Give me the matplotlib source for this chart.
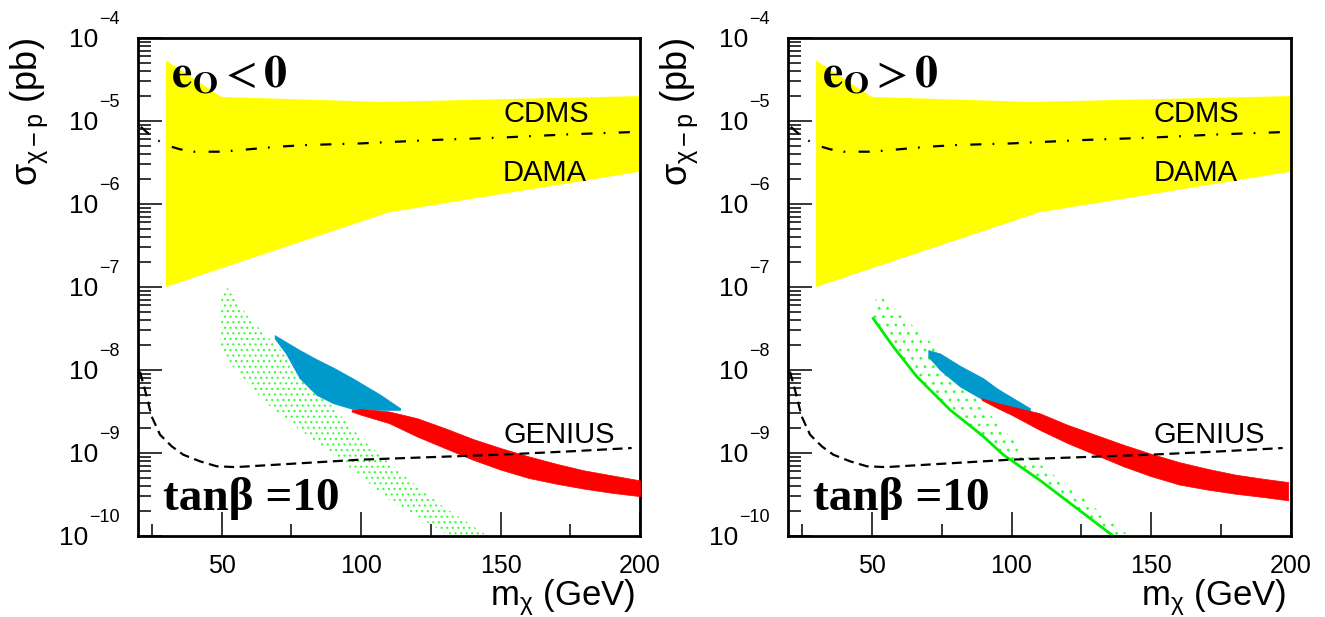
import numpy as np
import matplotlib
matplotlib.use('Agg')
import matplotlib.pyplot as plt
from matplotlib.ticker import FixedLocator, LogLocator, NullFormatter

plt.rcParams['font.family'] = ['Liberation Sans', 'DejaVu Sans']
plt.rcParams['mathtext.fontset'] = 'custom'
plt.rcParams['mathtext.rm'] = 'Liberation Sans'
plt.rcParams['mathtext.it'] = 'Liberation Sans'
plt.rcParams['mathtext.bf'] = 'Liberation Sans:bold'
plt.rcParams['hatch.linewidth'] = 0.8

# ---- axes ----
x_major = [50, 100, 150, 200]
x_minor = [25, 75, 125, 175]
y_exps = [-10, -9, -8, -7, -6, -5, -4]

# ---- experimental limits (log10 of sigma in pb) ----
dama_top_x = [30, 50, 107, 200]
dama_top = [-4.27, -4.71, -4.77, -4.70]
dama_bot_x = [200, 110, 30]
dama_bot = [-5.61, -6.10, -7.00]

cdms_x = [21, 23, 26, 30, 35, 40, 45, 50, 60, 70, 80, 90, 100, 125, 150, 175, 200]
cdms = [-5.07, -5.13, -5.21, -5.29, -5.34, -5.37, -5.37, -5.37, -5.34, -5.31,
        -5.29, -5.28, -5.27, -5.23, -5.20, -5.16, -5.13]

genius_x = [20.7, 22.5, 24.9, 27.9, 32.1, 36.2, 42.2, 48.2, 55, 70, 85, 100,
            125, 150, 175, 197]
genius = [-8.02, -8.24, -8.56, -8.78, -8.92, -9.02, -9.10, -9.16, -9.17, -9.14,
          -9.11, -9.08, -9.05, -9.02, -8.98, -8.94]

# ---- e_O < 0 scan ----
gl_up_x = [51.8, 60, 70, 80, 90, 100, 110, 120, 130, 145.5]
gl_up = [-7.0, -7.38, -7.72, -8.10, -8.45, -8.82, -9.12, -9.40, -9.66, -10.0]
gl_lo_x = [132, 110.4, 92.4, 78, 66, 54, 49.4, 49.5]
gl_lo = [-10.0, -9.57, -9.08, -8.72, -8.40, -7.96, -7.72, -7.18]

bl_x = [69, 73, 78, 84, 90, 97, 100, 107, 114]
bl_up = [-7.58, -7.66, -7.76, -7.87, -7.97, -8.10, -8.16, -8.30, -8.46]
bl_lo = [-7.62, -7.80, -8.10, -8.30, -8.40, -8.47, -8.47, -8.48, -8.48]

rl_x = [96.6, 100, 110, 120, 130, 140, 150, 160, 170, 180, 190, 200]
rl_up = [-8.48, -8.47, -8.50, -8.58, -8.70, -8.83, -8.94, -9.04, -9.13, -9.21,
         -9.27, -9.33]
rl_lo = [-8.50, -8.54, -8.64, -8.80, -8.94, -9.08, -9.20, -9.30, -9.37, -9.43,
         -9.48, -9.52]

# ---- e_O > 0 scan ----
gr_ridge_x = [50.5, 57.7, 66.1, 78.0, 89.9, 97.0, 110.2, 136.4]
gr_ridge = [-7.38, -7.72, -8.08, -8.48, -8.80, -9.02, -9.33, -10.0]
gr_up_x = [51.7, 62.5, 70.8, 80, 89.9, 99.4, 104.2, 122.1, 141.2]
gr_up = [-7.07, -7.40, -7.66, -8.05, -8.45, -8.80, -8.98, -9.45, -9.97]

br_x = [70.2, 74.4, 81.6, 89.9, 94.7, 100.6, 106.6]
br_up = [-7.76, -7.80, -7.95, -8.10, -8.22, -8.34, -8.46]
br_lo = [-7.84, -8.00, -8.20, -8.36, -8.44, -8.50, -8.50]

rr_x = [89.3, 95, 100, 110, 120, 130, 140, 150, 160, 170, 180, 190, 199]
rr_up = [-8.34, -8.40, -8.44, -8.52, -8.66, -8.78, -8.90, -9.01, -9.11, -9.19,
         -9.26, -9.31, -9.35]
rr_lo = [-8.36, -8.46, -8.54, -8.72, -8.88, -9.02, -9.16, -9.28, -9.38, -9.44,
         -9.49, -9.53, -9.57]

YELLOW = '#ffff00'
BLUE = '#0099cc'
RED = '#ff0000'
GREEN = '#33ff33'


def p(v):
    return 10.0 ** np.asarray(v, dtype=float)


def setup(ax, sign_text):
    ax.set_yscale('log')
    ax.set_xlim(20, 200)
    ax.set_ylim(1e-10, 1e-4)
    ax.xaxis.set_major_locator(FixedLocator(x_major))
    ax.xaxis.set_minor_locator(FixedLocator(x_minor))
    ax.set_xticklabels([str(v) for v in x_major])
    ax.yaxis.set_major_locator(FixedLocator(p(y_exps)))
    ax.yaxis.set_minor_locator(LogLocator(base=10, subs=np.arange(2, 10)))
    ax.yaxis.set_major_formatter(NullFormatter())
    ax.yaxis.set_minor_formatter(NullFormatter())
    ax.tick_params(which='both', direction='in', top=False, right=False)
    ax.tick_params(which='major', length=17, width=1.1, labelsize=18)
    ax.tick_params(axis='x', which='major', pad=13)
    ax.tick_params(which='minor', length=9, width=1.1)
    for s in ax.spines.values():
        s.set_linewidth(2)

    # y tick labels written as "10" with a raised exponent
    for e in y_exps:
        sup = ax.annotate('\u2212%d' % -e, xy=(0, p(e)),
                          xycoords=('axes fraction', 'data'),
                          xytext=(-13, 7), textcoords='offset points',
                          ha='right', va='bottom', fontsize=13,
                          annotation_clip=False)
        ax.annotate('10', xy=(0, 0), xycoords=sup, xytext=(-1, -8.5),
                    textcoords='offset points', ha='right', va='center',
                    fontsize=19, annotation_clip=False)

    # DAMA region
    ax.fill(dama_top_x + dama_bot_x, p(dama_top + dama_bot), color=YELLOW,
            lw=0, zorder=1)
    ax.plot(cdms_x, p(cdms), color='k', lw=1.6,
            linestyle=(0, (5, 5, 0.8, 6)), zorder=5)
    ax.plot(genius_x, p(genius), color='k', lw=1.6,
            linestyle=(0, (4.5, 2.5)), zorder=5)

    ax.text(150.9, p(-5.012), 'CDMS', fontsize=21, va='baseline', zorder=6)
    ax.text(150.9, p(-5.723), 'DAMA', fontsize=21, va='baseline', zorder=6)
    ax.text(150.9, p(-8.876), 'GENIUS', fontsize=21, va='baseline', zorder=6)

    ax.text(32.0, p(-4.587), sign_text, fontsize=33, va='baseline',
            math_fontfamily='stix', zorder=6)
    ax.text(29.0, p(-9.69), 'tanβ =10', fontsize=34, fontweight='bold',
            family='Liberation Serif', va='baseline', zorder=6)

    ax.set_xlabel(r'm$_\chi$ (GeV)', fontsize=25, loc='right')
    ax.xaxis.set_label_coords(0.99, -0.082)
    ax.set_ylabel(r'$\sigma_{\chi - p}$ (pb)', fontsize=26, loc='top')
    ax.yaxis.set_label_coords(-0.175, 1.0)


fig = plt.figure(figsize=(13.25, 6.17), dpi=100)
ax_l = fig.add_axes([138 / 1325, 81 / 617, 502 / 1325, 498 / 617])
ax_r = fig.add_axes([788 / 1325, 81 / 617, 503 / 1325, 498 / 617])

setup(ax_l, r'$\mathbf{e_O}< \mathbf{0}$')
setup(ax_r, r'$\mathbf{e_O}> \mathbf{0}$')

# left panel scan points
ax_l.fill(gl_up_x + gl_lo_x, p(gl_up + gl_lo), facecolor='none',
          edgecolor=GREEN, hatch='...', lw=0, zorder=2)
ax_l.fill_between(bl_x, p(bl_lo), p(bl_up), color=BLUE, lw=0.5, zorder=3)
ax_l.fill_between(rl_x, p(rl_lo), p(rl_up), color=RED, lw=0.5, zorder=4)

# right panel scan points
ax_r.fill(gr_up_x + gr_ridge_x[::-1], p(gr_up + gr_ridge[::-1]),
          facecolor='none', edgecolor=GREEN, hatch='..', lw=0, zorder=2)
ax_r.plot(gr_ridge_x, p(gr_ridge), color='#00ee00', lw=2, zorder=2)
ax_r.fill_between(br_x, p(br_lo), p(br_up), color=BLUE, lw=0.5, zorder=3)
ax_r.fill_between(rr_x, p(rr_lo), p(rr_up), color=RED, lw=0.5, zorder=4)

fig.savefig('out.png', dpi=100)
